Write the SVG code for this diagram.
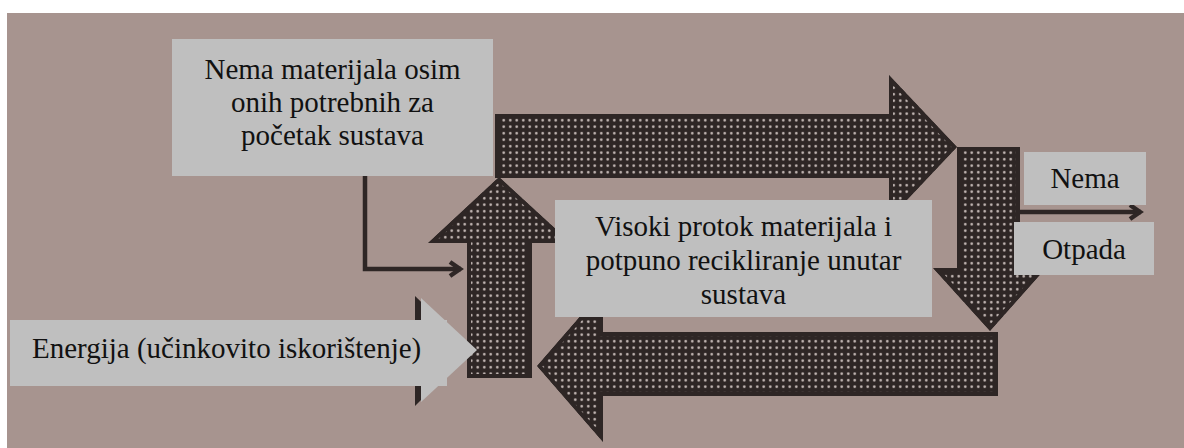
<svg xmlns="http://www.w3.org/2000/svg" xmlns:xlink="http://www.w3.org/1999/xlink" width="1184" height="448" viewBox="0 0 1184 448">
  <style>
    .paper { fill: #a7948f; }
    .box { fill: #bfbfbf; }
    .label { font-family: "Liberation Serif", "Times New Roman", "DejaVu Serif", serif; font-size: 29px; fill: #111111; }
    .mid { text-anchor: middle; }
    .arrow { fill: url(#dots); stroke: #2e2625; stroke-width: 8; stroke-linejoin: miter; }
    .conn { fill: none; stroke: #2e2625; stroke-width: 4.5; stroke-linejoin: miter; }
  </style>
  <defs>
    <pattern id="dots" patternUnits="userSpaceOnUse" width="6.5" height="6.5">
      <rect width="6.5" height="6.5" fill="#2e2625"/>
      <circle cx="3.25" cy="3.25" r="1.3" fill="#c8bcb9"/>
    </pattern>
    <polygon id="shapeTop" points="495,114 889,114 889,75 957,147 889,219 889,178 495,178"/>
    <polygon id="shapeDown" points="957,147 1020,147 1020,268 1046,268 990,331 933,268 957,268"/>
    <polygon id="shapeBottom" points="998,332 998,396 603,396 603,442 537,366 603,290 603,332"/>
    <polygon id="shapeUp" points="467,378 467,243 428,243 499,177 571,243 532,243 532,378"/>
    <clipPath id="clipTop"><use xlink:href="#shapeTop"/></clipPath>
    <clipPath id="clipDown"><use xlink:href="#shapeDown"/></clipPath>
    <clipPath id="clipBottom"><use xlink:href="#shapeBottom"/></clipPath>
    <clipPath id="clipUp"><use xlink:href="#shapeUp"/></clipPath>
    <marker id="chev" viewBox="0 0 16 18" refX="13" refY="9" markerWidth="16" markerHeight="18" orient="auto" markerUnits="userSpaceOnUse">
      <path d="M2,2 L12,9 L2,16" fill="none" stroke="#2e2625" stroke-width="4.5"/>
    </marker>
  </defs>

  <rect x="0" y="0" width="1184" height="448" fill="#ffffff"/>
  <rect class="paper" x="7" y="13" width="1177" height="435"/>

  <g id="arrow-top"><use xlink:href="#shapeTop" class="arrow" clip-path="url(#clipTop)"/></g>
  <g id="arrow-down"><use xlink:href="#shapeDown" class="arrow" clip-path="url(#clipDown)"/></g>
  <g id="arrow-bottom"><use xlink:href="#shapeBottom" class="arrow" clip-path="url(#clipBottom)"/></g>
  <g id="arrow-up"><use xlink:href="#shapeUp" class="arrow" clip-path="url(#clipUp)"/></g>

  <g id="connectors">
    <path class="conn" d="M365,176 V269 H461" marker-end="url(#chev)"/>
    <path class="conn" d="M1020,212 H1141" marker-end="url(#chev)"/>
  </g>

  <g id="energija">
    <polygon points="415,296 471,350 415,406" fill="#2e2625"/>
    <rect class="box" x="10" y="320" width="437" height="66"/>
    <polygon class="box" points="421,298 477,350 421,402"/>
    <text class="label" x="32" y="358">Energija (učinkovito iskorištenje)</text>
  </g>

  <g id="box-start">
    <rect class="box" x="172" y="39" width="321" height="137"/>
    <text class="label mid" x="332.5" y="79">Nema materijala osim</text>
    <text class="label mid" x="332.5" y="112">onih potrebnih za</text>
    <text class="label mid" x="332.5" y="145">početak sustava</text>
  </g>

  <g id="box-flow">
    <rect class="box" x="555" y="200" width="377" height="117"/>
    <text class="label mid" x="743.5" y="236">Visoki protok materijala i</text>
    <text class="label mid" x="743.5" y="270">potpuno recikliranje unutar</text>
    <text class="label mid" x="743.5" y="304">sustava</text>
  </g>

  <g id="box-nema">
    <rect class="box" x="1024" y="152" width="122" height="53"/>
    <text class="label mid" x="1085" y="188">Nema</text>
  </g>

  <g id="box-otpada">
    <rect class="box" x="1014" y="222" width="140" height="53"/>
    <text class="label mid" x="1084" y="259">Otpada</text>
  </g>
</svg>
